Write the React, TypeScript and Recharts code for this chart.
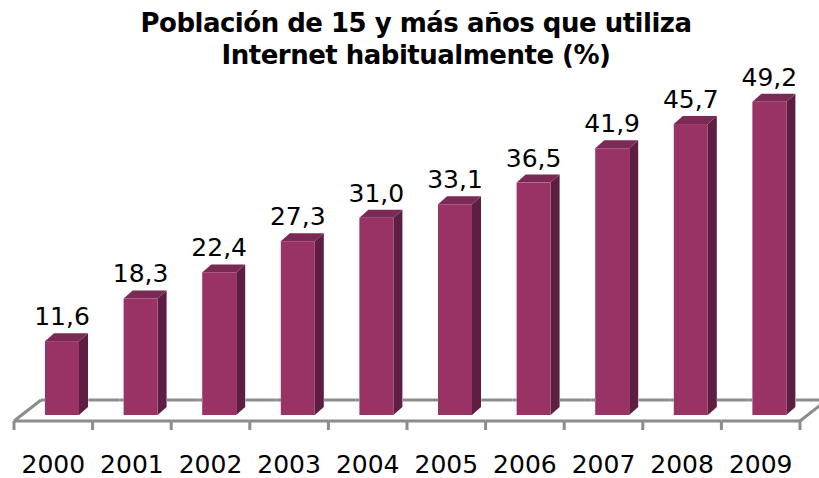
import React from "react";
import { Bar, BarChart, LabelList, XAxis, YAxis } from "recharts";

const years = ["2000", "2001", "2002", "2003", "2004", "2005", "2006", "2007", "2008", "2009"];
const usage = [11.6, 18.3, 22.4, 27.3, 31.0, 33.1, 36.5, 41.9, 45.7, 49.2];

const data = years.map((year, i) => ({ year, value: usage[i] }));

const FONT = "'DejaVu Sans', Verdana, sans-serif";
const BAR_SIZE = 34;
const DEPTH_X = 9;
const DEPTH_Y = 8;
const SHIFT = 9;
const FLOOR = "#8c8c8c";

function Bar3D(props: any) {
  const { x, y, width, height } = props;
  const left = x + SHIFT;
  const right = left + width;
  const bottom = y + height;
  return (
    <g>
      <polygon
        points={`${right},${y} ${right + DEPTH_X},${y - DEPTH_Y} ${right + DEPTH_X},${bottom - DEPTH_Y} ${right},${bottom}`}
        fill="#5e1e41"
      />
      <polygon
        points={`${left},${y} ${left + DEPTH_X},${y - DEPTH_Y} ${right + DEPTH_X},${y - DEPTH_Y} ${right},${y}`}
        fill="#7b2a56"
      />
      <rect x={left} y={y} width={width} height={height} fill="#993366" />
    </g>
  );
}

// floor of the 3d plot, one category at a time.
// ticks are painted above the bars, so the back edge skips the part a bar hides
function FloorTick(props: any) {
  const { x, y, payload, index, width, visibleTicksCount } = props;
  const band = width / visibleTicksCount;
  const x0 = x - band / 2;
  const x1 = x + band / 2;
  const front = y + 6;
  const back = y - 15;
  const dx = 27;
  const last = index === visibleTicksCount - 1;
  const hideFrom = x - BAR_SIZE / 2 + SHIFT;
  const hideTo = x + BAR_SIZE / 2 + SHIFT + DEPTH_X;
  return (
    <g>
      <line x1={x0 + dx} y1={back} x2={hideFrom} y2={back} stroke={FLOOR} strokeWidth={3} />
      <line x1={hideTo} y1={back} x2={x1 + dx} y2={back} stroke={FLOOR} strokeWidth={3} />
      <line x1={x0} y1={front} x2={x1} y2={front} stroke={FLOOR} strokeWidth={3} />
      <line x1={x0} y1={front} x2={x0} y2={front + 9} stroke={FLOOR} strokeWidth={3} />
      {index === 0 && (
        <line x1={x0} y1={front} x2={x0 + dx} y2={back} stroke={FLOOR} strokeWidth={3} />
      )}
      {last && (
        <>
          <line x1={x1} y1={front} x2={x1} y2={front + 9} stroke={FLOOR} strokeWidth={3} />
          <line x1={x1} y1={front} x2={x1 + dx} y2={back} stroke={FLOOR} strokeWidth={3} />
        </>
      )}
      <text x={x} y={y + 58} textAnchor="middle" fontFamily={FONT} fontSize={25} fill="#000">
        {payload.value}
      </text>
    </g>
  );
}

function ValueLabel(props: any) {
  const { x, y, width, value } = props;
  return (
    <text
      x={x + SHIFT + width / 2}
      y={y - 16}
      textAnchor="middle"
      fontFamily={FONT}
      fontSize={25}
      fill="#000"
    >
      {Number(value).toFixed(1).replace(".", ",")}
    </text>
  );
}

export default function App() {
  return (
    <div style={{ position: "fixed", left: 0, top: 0, width: 819, height: 478, background: "#fff" }}>
      <div
        style={{
          position: "absolute",
          top: 7,
          left: 0,
          width: 832,
          textAlign: "center",
          fontFamily: FONT,
          fontWeight: "bold",
          fontSize: 26,
          lineHeight: "32px",
          letterSpacing: -0.5,
          color: "#000",
        }}
      >
        Población de 15 y más años que utiliza
        <br />
        Internet habitualmente (%)
      </div>
      <BarChart
        width={819}
        height={478}
        data={data}
        margin={{ top: 33, right: 19, bottom: 0, left: 14 }}
        style={{ position: "absolute", left: 0, top: 0 }}
      >
        <XAxis
          dataKey="year"
          height={63}
          axisLine={false}
          tickLine={false}
          tickSize={0}
          tickMargin={0}
          interval={0}
          tick={<FloorTick />}
        />
        <YAxis domain={[0, 60]} hide />
        <Bar dataKey="value" barSize={BAR_SIZE} shape={<Bar3D />} isAnimationActive={false}>
          <LabelList dataKey="value" content={<ValueLabel />} />
        </Bar>
      </BarChart>
    </div>
  );
}
